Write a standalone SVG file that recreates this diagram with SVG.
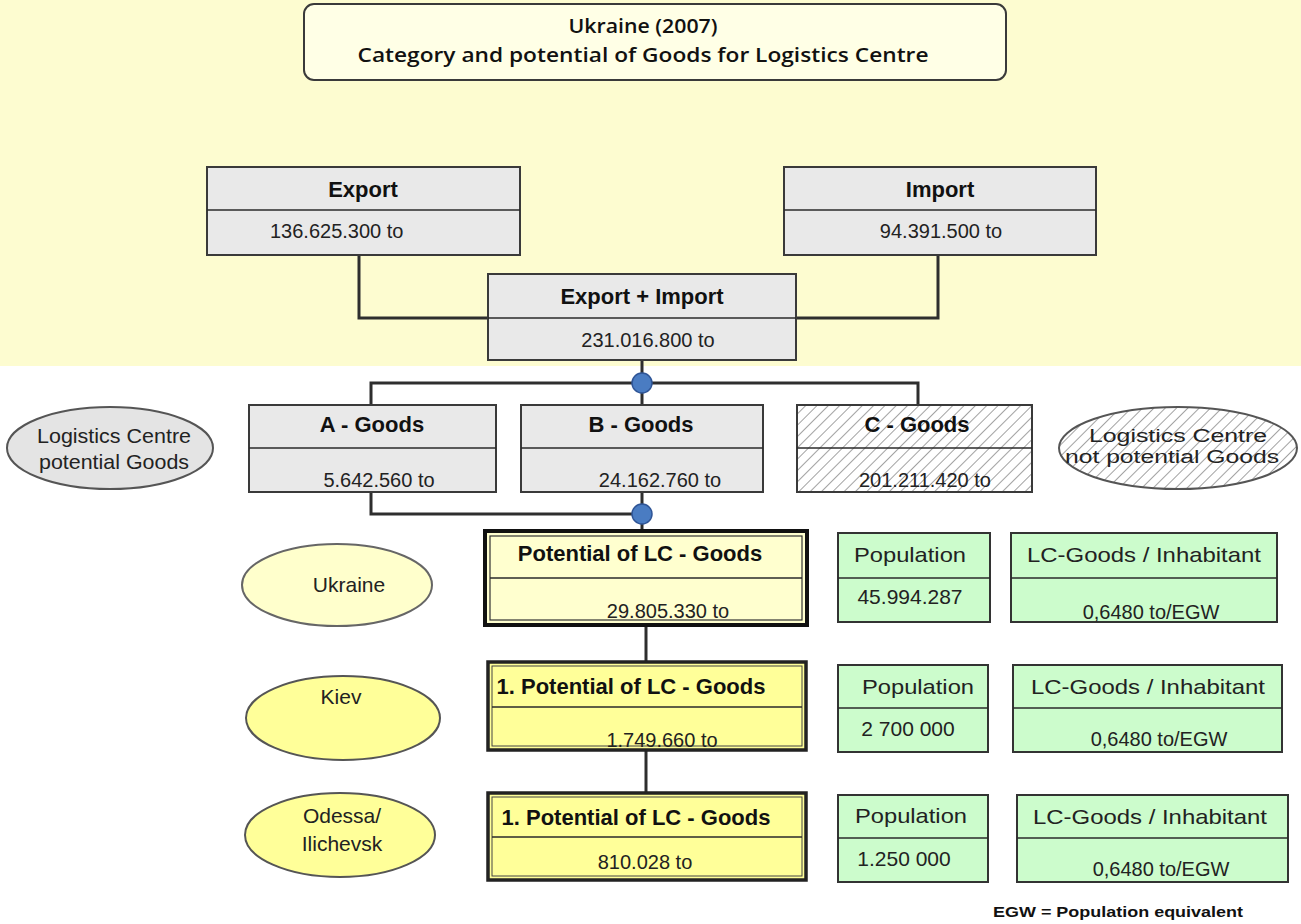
<svg xmlns="http://www.w3.org/2000/svg" width="1301" height="924" viewBox="0 0 1301 924">
  <defs>
    <pattern id="hatch" patternUnits="userSpaceOnUse" width="8" height="8" patternTransform="rotate(45)">
      <rect width="8" height="8" fill="#ffffff"/>
      <line x1="0" y1="0" x2="0" y2="8" stroke="#8a8a8a" stroke-width="1.6"/>
    </pattern>
  </defs>
  <style>
    .box { fill: #e9e9e9; stroke: #3a3a3a; stroke-width: 2; }
    .hatched { fill: url(#hatch); stroke: #3a3a3a; stroke-width: 2; }
    .green { fill: #ccfccc; stroke: #333333; stroke-width: 2; }
    .yel-pale { fill: #ffffcf; }
    .yel { fill: #ffff99; }
    .div { stroke: #2a2a2a; stroke-width: 1.6; }
    .wire { fill: none; stroke: #2e2e2e; stroke-width: 3; }
    .dot { fill: #4a7cc2; stroke: #2f5597; stroke-width: 1.5; }
    .ell-grey { fill: #e4e4e4; stroke: #555555; stroke-width: 2; }
    .ell-pale { fill: #ffffcc; stroke: #666666; stroke-width: 2; }
    .ell-yel { fill: #ffff99; stroke: #555555; stroke-width: 2; }
    .hd { font-family: "Liberation Sans", Arial, sans-serif; font-weight: bold; font-size: 22px; fill: #111111; text-anchor: middle; }
    .val { font-family: "Liberation Sans", Arial, sans-serif; font-size: 20px; fill: #222222; text-anchor: middle; }
    .lbl { font-family: "Liberation Sans", Arial, sans-serif; font-size: 21px; fill: #222222; text-anchor: middle; }
    .ttl { font-family: "Open Sans", "Noto Sans", sans-serif; font-weight: 600; font-size: 20px; fill: #111111; text-anchor: middle; }
  </style>

  <!-- pale yellow upper band -->
  <rect x="0" y="0" width="1301" height="366" fill="#fdfcd0"/>

  <!-- title -->
  <g id="title">
    <rect x="304" y="4" width="702" height="76" rx="10" fill="#ffffe6" stroke="#3a3a3a" stroke-width="2"/>
    <text class="ttl" x="643" y="33" textLength="149" lengthAdjust="spacingAndGlyphs">Ukraine (2007)</text>
    <text class="ttl" x="643" y="62" textLength="571" lengthAdjust="spacingAndGlyphs">Category and potential of Goods for Logistics Centre</text>
  </g>

  <!-- connectors -->
  <g id="connectors">
    <polyline class="wire" points="359,255 359,318 488,318"/>
    <polyline class="wire" points="938,255 938,318 796,318"/>
    <line class="wire" x1="642" y1="360" x2="642" y2="405"/>
    <polyline class="wire" points="371,405 371,383 918,383 918,405"/>
    <polyline class="wire" points="371,492 371,514 642,514"/>
    <line class="wire" x1="642" y1="492" x2="642" y2="531"/>
    <line class="wire" x1="646" y1="625" x2="646" y2="662"/>
    <line class="wire" x1="646" y1="750" x2="646" y2="793"/>
    <circle class="dot" cx="642" cy="383" r="10"/>
    <circle class="dot" cx="642" cy="514" r="10"/>
  </g>

  <g id="export">
    <rect class="box" x="207" y="167" width="313" height="88"/>
    <line class="div" x1="207" y1="210" x2="520" y2="210"/>
    <text class="hd" x="363" y="197">Export</text>
    <text class="val" x="270" y="238" style="text-anchor:start">136.625.300  to</text>
  </g>

  <g id="import">
    <rect class="box" x="784" y="167" width="312" height="88"/>
    <line class="div" x1="784" y1="210" x2="1096" y2="210"/>
    <text class="hd" x="940" y="197">Import</text>
    <text class="val" x="941" y="238">94.391.500 to</text>
  </g>

  <g id="export-import">
    <rect class="box" x="488" y="274" width="308" height="86"/>
    <line class="div" x1="488" y1="318" x2="796" y2="318"/>
    <text class="hd" x="642" y="304">Export + Import</text>
    <text class="val" x="648" y="347">231.016.800 to</text>
  </g>

  <g id="lc-potential">
    <ellipse class="ell-grey" cx="110" cy="448" rx="103" ry="41"/>
    <text class="lbl" x="114" y="443" textLength="154" lengthAdjust="spacingAndGlyphs">Logistics Centre</text>
    <text class="lbl" x="114" y="469" textLength="150" lengthAdjust="spacingAndGlyphs">potential Goods</text>
  </g>

  <g id="a-goods">
    <rect class="box" x="249" y="405" width="247" height="87"/>
    <line class="div" x1="249" y1="448" x2="496" y2="448"/>
    <text class="hd" x="372" y="432">A - Goods</text>
    <text class="val" x="379" y="487">5.642.560 to</text>
  </g>

  <g id="b-goods">
    <rect class="box" x="521" y="405" width="242" height="87"/>
    <line class="div" x1="521" y1="448" x2="763" y2="448"/>
    <text class="hd" x="641" y="432">B - Goods</text>
    <text class="val" x="660" y="487">24.162.760 to</text>
  </g>

  <g id="c-goods">
    <rect class="hatched" x="797" y="405" width="235" height="87"/>
    <line class="div" x1="797" y1="448" x2="1032" y2="448"/>
    <text class="hd" x="917" y="432">C -  Goods</text>
    <text class="val" x="925" y="487">201.211.420 to</text>
  </g>

  <g id="lc-not-potential">
    <ellipse cx="1178" cy="448" rx="119" ry="41" fill="url(#hatch)" stroke="#555555" stroke-width="2"/>
    <text class="lbl" x="1178" y="442" style="font-size:18px" textLength="178" lengthAdjust="spacingAndGlyphs">Logistics Centre</text>
    <text class="lbl" x="1172" y="463" style="font-size:18px" textLength="214" lengthAdjust="spacingAndGlyphs">not potential Goods</text>
  </g>

  <g id="ukraine">
    <ellipse class="ell-pale" cx="337" cy="585" rx="95" ry="41"/>
    <text class="lbl" x="349" y="592">Ukraine</text>
  </g>

  <g id="potential-ukraine">
    <rect class="yel-pale" x="485" y="531" width="322" height="94" stroke="#111111" stroke-width="4"/>
    <rect x="490" y="536" width="312" height="84" fill="none" stroke="#333333" stroke-width="1.2"/>
    <line class="div" x1="490" y1="578" x2="802" y2="578"/>
    <text class="hd" x="640" y="561">Potential of LC - Goods</text>
    <text class="val" x="668" y="618">29.805.330 to</text>
  </g>

  <g id="kiev">
    <ellipse class="ell-yel" cx="343" cy="718" rx="97" ry="42"/>
    <text class="lbl" x="341" y="704">Kiev</text>
  </g>

  <g id="potential-kiev">
    <rect class="yel" x="488" y="662" width="318" height="88" stroke="#222222" stroke-width="3.5"/>
    <rect x="492" y="666" width="310" height="80" fill="none" stroke="#444444" stroke-width="1"/>
    <line class="div" x1="492" y1="707" x2="802" y2="707"/>
    <text class="hd" x="631" y="694">1. Potential of LC - Goods</text>
    <text class="val" x="662" y="747">1.749.660 to</text>
  </g>

  <g id="odessa">
    <ellipse class="ell-yel" cx="340" cy="835" rx="95" ry="42"/>
    <text class="lbl" x="342" y="823">Odessa/</text>
    <text class="lbl" x="342" y="851">Ilichevsk</text>
  </g>

  <g id="potential-odessa">
    <rect class="yel" x="488" y="793" width="318" height="87" stroke="#222222" stroke-width="3.5"/>
    <rect x="492" y="797" width="310" height="79" fill="none" stroke="#444444" stroke-width="1"/>
    <line class="div" x1="492" y1="837" x2="802" y2="837"/>
    <text class="hd" x="636" y="825">1. Potential of LC - Goods</text>
    <text class="val" x="645" y="869">810.028 to</text>
  </g>

  <g id="population-ukraine">
    <rect class="green" x="838" y="533" width="152" height="89"/>
    <line class="div" x1="838" y1="578" x2="990" y2="578"/>
    <text class="lbl" x="910" y="562" textLength="112" lengthAdjust="spacingAndGlyphs">Population</text>
    <text class="lbl" x="910" y="604">45.994.287</text>
  </g>

  <g id="per-inhabitant-ukraine">
    <rect class="green" x="1011" y="533" width="266" height="89"/>
    <line class="div" x1="1011" y1="578" x2="1277" y2="578"/>
    <text class="lbl" x="1144" y="562" textLength="234" lengthAdjust="spacingAndGlyphs">LC-Goods / Inhabitant</text>
    <text class="val" x="1151" y="619">0,6480 to/EGW</text>
  </g>

  <g id="population-kiev">
    <rect class="green" x="838" y="665" width="150" height="87"/>
    <line class="div" x1="838" y1="708" x2="988" y2="708"/>
    <text class="lbl" x="918" y="694" textLength="112" lengthAdjust="spacingAndGlyphs">Population</text>
    <text class="lbl" x="908" y="736">2 700 000</text>
  </g>

  <g id="per-inhabitant-kiev">
    <rect class="green" x="1013" y="665" width="269" height="87"/>
    <line class="div" x1="1013" y1="708" x2="1282" y2="708"/>
    <text class="lbl" x="1148" y="694" textLength="234" lengthAdjust="spacingAndGlyphs">LC-Goods / Inhabitant</text>
    <text class="val" x="1159" y="746">0,6480 to/EGW</text>
  </g>

  <g id="population-odessa">
    <rect class="green" x="838" y="795" width="150" height="87"/>
    <line class="div" x1="838" y1="838" x2="988" y2="838"/>
    <text class="lbl" x="911" y="823" textLength="112" lengthAdjust="spacingAndGlyphs">Population</text>
    <text class="lbl" x="904" y="866">1.250 000</text>
  </g>

  <g id="per-inhabitant-odessa">
    <rect class="green" x="1017" y="795" width="271" height="87"/>
    <line class="div" x1="1017" y1="838" x2="1288" y2="838"/>
    <text class="lbl" x="1150" y="824" textLength="234" lengthAdjust="spacingAndGlyphs">LC-Goods / Inhabitant</text>
    <text class="val" x="1161" y="876">0,6480 to/EGW</text>
  </g>

  <text x="1118" y="917" text-anchor="middle" font-family="Liberation Sans, Arial, sans-serif" font-weight="bold" font-size="15" fill="#111111" textLength="250" lengthAdjust="spacingAndGlyphs">EGW = Population equivalent</text>
</svg>
